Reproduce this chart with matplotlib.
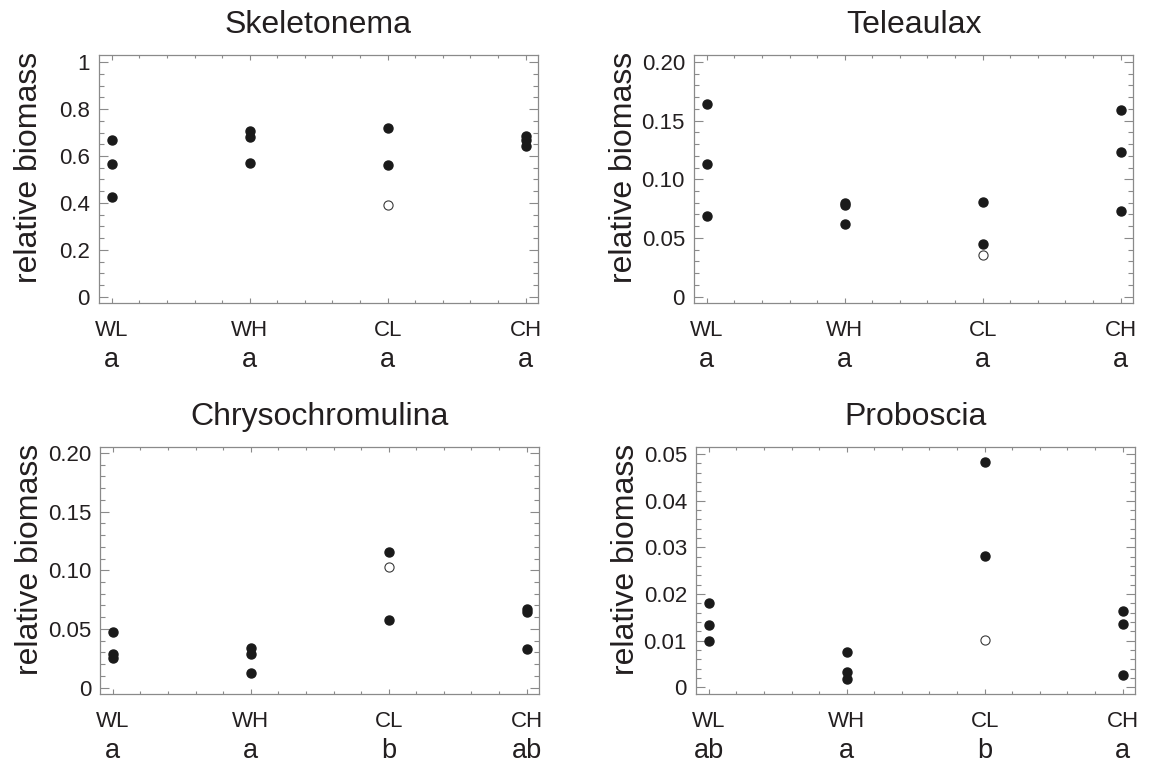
import matplotlib
matplotlib.use("Agg")
import matplotlib.pyplot as plt
from matplotlib.ticker import MultipleLocator

plt.rcParams["font.family"] = ["Liberation Sans", "DejaVu Sans"]

groups = ["WL", "WH", "CL", "CH"]

titles = ["Skeletonema", "Teleaulax", "Chrysochromulina", "Proboscia"]

# filled points per treatment (WL, WH, CL, CH)
skeletonema = [[0.667, 0.567, 0.424], [0.705, 0.681, 0.571], [0.718, 0.560], [0.684, 0.670, 0.641]]
teleaulax = [[0.164, 0.113, 0.069], [0.080, 0.078, 0.062], [0.081, 0.045], [0.159, 0.123, 0.073]]
chrysochromulina = [[0.047, 0.0285, 0.0256], [0.034, 0.029, 0.0128], [0.116, 0.0575], [0.067, 0.0647, 0.0325]]
proboscia = [[0.018, 0.0134, 0.0100], [0.0075, 0.0034, 0.0019], [0.0484, 0.0281], [0.0163, 0.0136, 0.0026]]

# open points (only at CL)
skeletonema_open = [[], [], [0.393], []]
teleaulax_open = [[], [], [0.0353], []]
chrysochromulina_open = [[], [], [0.1028], []]
proboscia_open = [[], [], [0.0102], []]

# significance letters
skeletonema_letters = ["a", "a", "a", "a"]
teleaulax_letters = ["a", "a", "a", "a"]
chrysochromulina_letters = ["a", "a", "b", "ab"]
proboscia_letters = ["ab", "a", "b", "a"]

yticks_1 = [0, 0.2, 0.4, 0.6, 0.8, 1.0]
ylabels_1 = ["0", "0.2", "0.4", "0.6", "0.8", "1"]
yticks_2 = [0, 0.05, 0.10, 0.15, 0.20]
ylabels_2 = ["0", "0.05", "0.10", "0.15", "0.20"]
yticks_4 = [0, 0.01, 0.02, 0.03, 0.04, 0.05]
ylabels_4 = ["0", "0.01", "0.02", "0.03", "0.04", "0.05"]

panels = [
    (skeletonema, skeletonema_open, skeletonema_letters, yticks_1, ylabels_1, 0.05, (-0.027, 1.031)),
    (teleaulax, teleaulax_open, teleaulax_letters, yticks_2, ylabels_2, 0.01, (-0.0055, 0.206)),
    (chrysochromulina, chrysochromulina_open, chrysochromulina_letters, yticks_2, ylabels_2, 0.01, (-0.0055, 0.2051)),
    (proboscia, proboscia_open, proboscia_letters, yticks_4, ylabels_4, 0.002, (-0.0014, 0.0515)),
]

positions = [
    [0.0861, 0.6029, 0.3817, 0.325],
    [0.6035, 0.6029, 0.3817, 0.325],
    [0.0870, 0.0904, 0.3817, 0.3237],
    [0.6052, 0.0904, 0.3817, 0.3237],
]

text_col = "#231f20"
axis_col = "#8a8a8a"
dot_col = "#1a1a1a"

fig = plt.figure(figsize=(11.5, 7.63), dpi=100)

for k, (filled, opened, letters, yt, yl, yminor, ylim) in enumerate(panels):
    ax = fig.add_axes(positions[k])
    for i, g in enumerate(groups):
        ax.plot([i] * len(filled[i]), filled[i], "o", ms=6.5, color=dot_col, mec=dot_col, zorder=3)
        if opened[i]:
            ax.plot([i] * len(opened[i]), opened[i], "o", ms=6.6, mfc="white", mec="#3a3a3a", mew=0.8, zorder=3)

    ax.set_xlim(-0.093, 3.09)
    ax.set_ylim(*ylim)
    ax.set_xticks(range(len(groups)))
    ax.set_xticklabels(groups)
    ax.xaxis.set_minor_locator(MultipleLocator(0.2))
    ax.set_yticks(yt)
    ax.set_yticklabels(yl)
    ax.yaxis.set_minor_locator(MultipleLocator(yminor))

    for sp in ax.spines.values():
        sp.set_color(axis_col)
        sp.set_linewidth(0.9)

    ax.tick_params(which="both", direction="in", top=True, right=True, color=axis_col, width=0.8,
                   labelcolor=text_col)
    ax.tick_params(axis="x", which="major", length=3.6, pad=12, labelsize=16)
    ax.tick_params(axis="x", which="minor", length=2.2)
    ax.tick_params(axis="y", which="major", length=6.3, pad=6.5, labelsize=16)
    ax.tick_params(axis="y", which="minor", length=3.4)

    for i, letter in enumerate(letters):
        ax.annotate(letter, xy=(i, 0), xycoords=("data", "axes fraction"), xytext=(0, -46),
                    textcoords="offset points", ha="center", va="baseline", fontsize=19.5, color=text_col)

    ax.set_ylabel("relative biomass", fontsize=23, color=text_col)
    ax.yaxis.set_label_coords(-0.125, 0.545)
    ax.set_title(titles[k], fontsize=23, pad=16, color=text_col)

fig.savefig("out.png", dpi=100)
